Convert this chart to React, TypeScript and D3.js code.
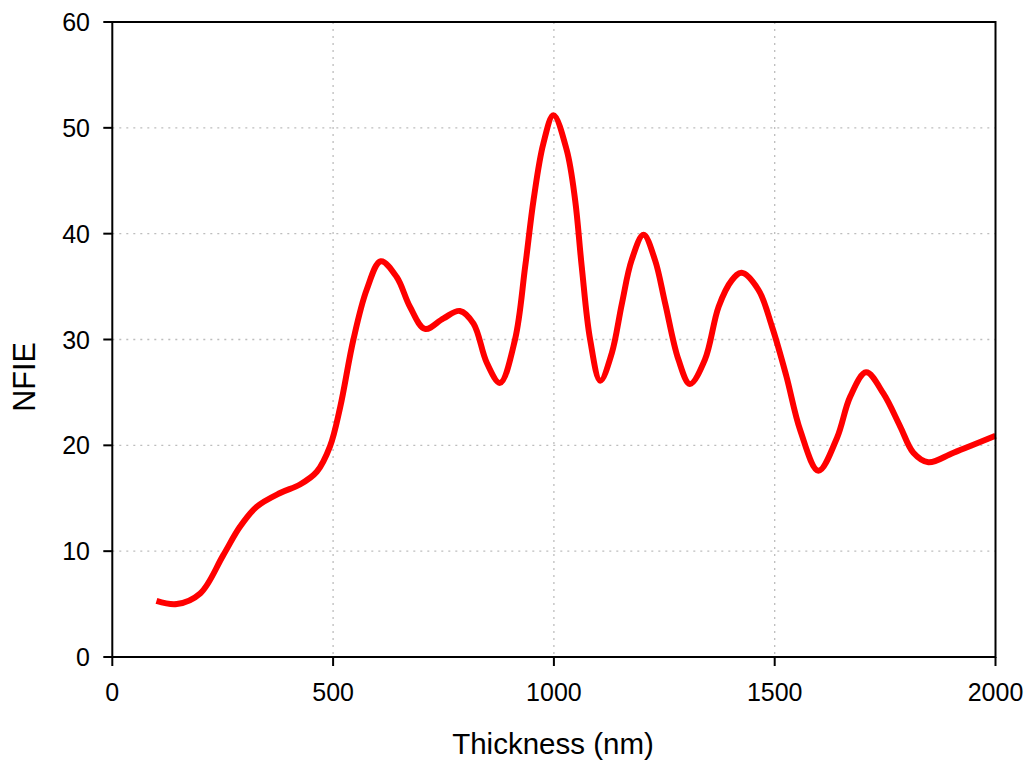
import React from "react";
import * as d3 from "d3";

const thickness = [
  100, 146, 199, 251, 289, 327, 380, 425, 463, 493, 516, 546, 576, 608, 644, 674, 708, 750, 787, 818,
  848, 878, 912, 935, 954, 976, 999, 1029, 1048, 1063, 1082, 1105, 1131, 1154, 1176, 1203, 1229,
  1252, 1282, 1308, 1342, 1373, 1403, 1425, 1463, 1494, 1526, 1558, 1599, 1641, 1671, 1707, 1746,
  1784, 1814, 1848, 1905, 2000,
];
const nfie = [
  5.3, 5.0, 6.0, 9.6, 12.3, 14.2, 15.5, 16.3, 17.5, 19.9, 23.6, 30.0, 34.7, 37.4, 35.9, 33.1, 31.0,
  32.0, 32.7, 31.5, 27.8, 25.9, 30.0, 36.9, 43.2, 48.5, 51.2, 47.9, 43.2, 36.9, 30.0, 26.1, 28.7,
  33.4, 37.5, 39.9, 37.5, 33.4, 28.1, 25.8, 28.1, 33.1, 35.6, 36.3, 34.7, 31.2, 26.6, 21.4, 17.6,
  20.7, 24.6, 26.9, 24.9, 21.8, 19.3, 18.4, 19.3, 20.9,
];
const xTicks = [0, 500, 1000, 1500, 2000];
const yTicks = [0, 10, 20, 30, 40, 50, 60];
const xTitle = "Thickness (nm)";
const yTitle = "NFIE";

const W = 1031;
const H = 767;
const L = 112.3;
const R = 995.5;
const T = 22;
const B = 657;

export default function App() {
  const x = d3.scaleLinear().domain([0, 2000]).range([L, R]);
  const y = d3.scaleLinear().domain([0, 60]).range([B, T]);
  const pts: [number, number][] = thickness.map((t, i) => [t, nfie[i]]);
  const line = d3
    .line<[number, number]>()
    .x((d) => x(d[0]))
    .y((d) => y(d[1]))
    .curve(d3.curveCatmullRom.alpha(0.5));
  const font = "'Liberation Sans', Arial, sans-serif";
  return (
    <svg
      width={W}
      height={H}
      style={{ position: "absolute", left: 0, top: 0, background: "#fff" }}
      fontFamily={font}
    >
      <rect x={0} y={0} width={W} height={H} fill="#fff" />
      {yTicks
        .filter((t) => t > 0 && t < 60)
        .map((t) => (
          <line
            key={"gy" + t}
            x1={L}
            x2={R}
            y1={y(t)}
            y2={y(t)}
            stroke="#bdbdbd"
            strokeWidth={1.3}
            strokeDasharray="2,5"
          />
        ))}
      {xTicks
        .filter((t) => t > 0 && t < 2000)
        .map((t) => (
          <line
            key={"gx" + t}
            x1={x(t)}
            x2={x(t)}
            y1={T}
            y2={B}
            stroke="#bdbdbd"
            strokeWidth={1.3}
            strokeDasharray="2,5"
          />
        ))}
      <path
        d={line(pts) || ""}
        fill="none"
        stroke="#ff0000"
        strokeWidth={6}
        strokeLinejoin="round"
        strokeLinecap="butt"
      />
      <rect x={L} y={T} width={R - L} height={B - T} fill="none" stroke="#000" strokeWidth={2} />
      {yTicks.map((t) => (
        <g key={"yt" + t}>
          <line x1={L - 9} x2={L} y1={y(t)} y2={y(t)} stroke="#000" strokeWidth={2} />
          <text x={90} y={y(t)} dy="0.36em" textAnchor="end" fontSize={25} fill="#000">
            {t}
          </text>
        </g>
      ))}
      {xTicks.map((t) => (
        <g key={"xt" + t}>
          <line x1={x(t)} x2={x(t)} y1={B} y2={B + 9} stroke="#000" strokeWidth={2} />
          <text x={x(t)} y={700.5} textAnchor="middle" fontSize={25} fill="#000">
            {t}
          </text>
        </g>
      ))}
      <text x={553} y={753.5} textAnchor="middle" fontSize={29.5} fill="#000">
        {xTitle}
      </text>
      <text
        transform={`translate(34.5,377) rotate(-90)`}
        textAnchor="middle"
        fontSize={30.5}
        fill="#000"
      >
        {yTitle}
      </text>
    </svg>
  );
}
